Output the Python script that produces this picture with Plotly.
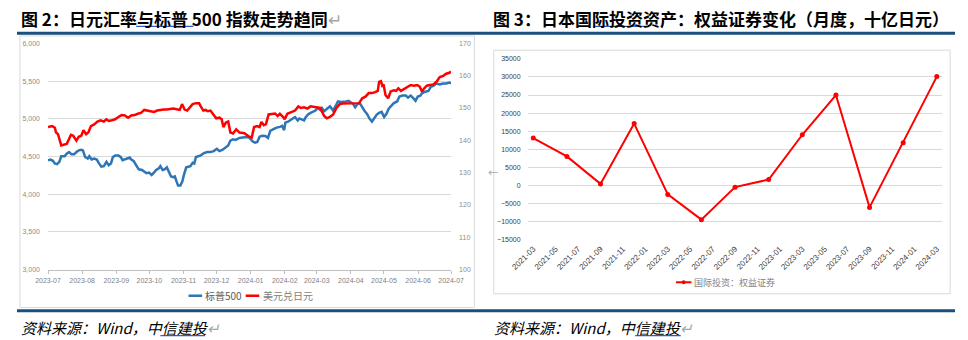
import pandas as pd
import plotly.graph_objects as go

W, H = 968, 340

# ---------------- Figure 2 data (days since 2023-07-01) ----------------
spx_days = [
    0, 2.3, 4.4, 6.2, 8.2, 10.3, 12.0, 15.0, 17.0, 19.1,
    21.4, 23.7, 25.8, 27.9, 30.2, 31.7, 33.7, 36.1, 37.5, 39.6,
    41.9, 44.3, 46.3, 48.4, 50.7, 53.1, 55.1, 57.2, 58.9, 61.0,
    63.9, 66.0, 67.7, 69.8, 71.8, 74.2, 75.6, 77.7, 80.0, 82.4,
    85.3, 87.4, 89.4, 91.8, 94.1, 96.2, 98.2, 100.6, 102.0, 104.1,
    105.8, 107.9, 109.9, 111.7, 113.7, 115.2, 116.7, 118.1, 120.2, 122.0,
    123.4, 125.5, 127.5, 129.3, 131.3, 132.8, 134.3, 136.3, 138.7, 141.6,
    144.5, 147.5, 150.4, 153.3, 155.7, 158.6, 161.5, 163.6, 165.6, 168.0,
    170.3,
    173.9, 178.3, 182.7, 185.6, 188.0, 190.0, 192.1, 194.4, 197.4, 199.7,
    201.8, 204.7, 207.6, 210.5, 212.6, 214.4, 215.5, 217.9, 220.2, 222.3,
    224.3, 226.7, 228.1, 230.2, 232.5, 234.0, 236.1, 238.4, 240.7, 242.8,
    244.8, 247.2, 248.7, 250.7, 253.1, 256.0, 258.9, 261.3, 263.3, 266.2,
    268.3, 270.6, 273.0, 275.0, 277.1, 278.9, 280.9, 283.0, 285.3, 287.6,
    289.7, 291.8, 294.1, 296.4, 298.5, 300.6, 302.9, 305.2, 307.3, 309.3,
    311.7, 314.0, 317.0, 319.0, 322.0, 324.9, 326.9, 329.3, 331.6, 333.7,
    335.7, 338.1, 339.5, 342.5, 345.4, 347.5, 349.8, 352.7, 355.7, 358.6,
    361.5, 364.5, 365.9,
]
spx_vals = [
    4450, 4459, 4442, 4407, 4398, 4429, 4502, 4502, 4537, 4558,
    4528, 4528, 4558, 4580, 4589, 4580, 4493, 4472, 4502, 4459,
    4472, 4459, 4407, 4364, 4372, 4429, 4385, 4407, 4493, 4511,
    4511, 4493, 4450, 4459, 4472, 4485, 4459, 4442, 4385, 4329,
    4320, 4299, 4277, 4286, 4255, 4286, 4320, 4342, 4372, 4320,
    4329, 4355, 4299, 4234, 4225, 4234, 4169, 4113, 4113, 4169,
    4255, 4355, 4364, 4372, 4416, 4407, 4493, 4502, 4515, 4545,
    4558, 4558, 4571, 4602, 4571, 4589, 4615, 4645, 4710, 4727,
    4719,
    4745, 4753, 4753, 4701, 4684, 4693, 4762, 4775, 4771, 4745,
    4840, 4861, 4883, 4892, 4905, 4849, 4948, 4961, 4978, 5004,
    5022, 4978, 5004, 4991, 4978, 5022, 5056, 5078, 5091, 5108,
    5143, 5117, 5143, 5100, 5130, 5165, 5108, 5165, 5229, 5221,
    5221, 5229, 5238, 5221, 5195, 5152, 5195, 5208, 5152, 5100,
    5065, 5004, 4961, 5004, 5056, 5078, 5091, 5022, 5065, 5134,
    5165, 5208, 5229, 5294, 5307, 5307, 5281, 5307, 5273, 5238,
    5294, 5307, 5338, 5359, 5368, 5424, 5437, 5467, 5455, 5467,
    5467, 5480, 5467,
]
usdjpy_days = [
    0, 3.8, 6.2, 7.3, 9.1, 10.8, 12.0, 14.1, 17.0, 19.1,
    20.8, 22.9, 25.8, 27.9, 30.2, 32.2, 34.6, 36.6, 39.0, 41.9,
    44.9, 47.8, 50.7, 53.1, 55.1, 58.0, 61.0, 63.9, 66.8, 69.8,
    72.7, 75.6, 78.6, 81.5, 84.4, 87.4, 90.3, 93.2, 96.2, 99.1,
    102.0, 105.0, 107.9, 110.8, 113.8, 116.7, 119.6, 121.7, 124.0, 126.4,
    128.4, 131.3, 134.3, 137.2, 138.7, 141.0, 143.1, 145.1, 147.5, 150.4,
    152.7, 155.7, 157.7, 159.2, 161.5, 163.6, 165.6, 168.0, 170.9,
    173.9, 178.3, 182.7, 185.0, 187.1, 190.0, 192.1, 193.8, 195.9, 197.9,
    200.3, 203.2, 206.2, 208.5, 210.5, 213.5, 214.9, 217.3, 220.2, 222.3,
    224.3, 227.3, 229.6, 232.5, 235.5, 238.4, 241.3, 244.3, 247.2, 250.7,
    253.1, 256.0, 258.9, 261.9, 264.8, 267.7, 270.6, 273.6, 276.5, 279.4,
    282.4, 285.3, 288.2, 291.2, 294.1, 297.0, 299.4, 300.6, 302.3, 303.5,
    304.7, 306.4, 308.8, 311.1, 314.0, 316.1, 318.1, 320.5, 323.4, 326.3,
    329.3, 332.2, 335.1, 337.5, 339.5, 341.6, 343.9, 346.9, 349.8, 352.7,
    355.7, 358.6, 361.5, 364.5, 365.9,
]
usdjpy_vals = [
    144.1, 144.4, 143.9, 142.4, 141.9, 139.9, 138.4, 138.6, 138.9, 140.4,
    141.7, 141.4, 139.9, 141.1, 141.4, 143.1, 141.9, 142.4, 144.4, 144.9,
    145.8, 146.2, 145.8, 146.5, 146.0, 146.2, 146.5, 147.2, 147.8, 147.7,
    147.0, 147.7, 147.8, 148.2, 148.5, 149.4, 149.2, 149.0, 148.8, 149.2,
    149.4, 149.5, 149.5, 149.7, 149.8, 149.6, 149.4, 151.2, 149.5, 149.2,
    150.0, 151.2, 151.5, 151.5, 150.5, 149.2, 149.4, 149.0, 149.2, 147.8,
    146.8, 147.0, 146.5, 144.1, 145.5, 145.8, 142.4, 142.1, 143.4,
    142.4, 142.2, 141.1, 140.9, 144.1, 144.4, 144.1, 145.7, 144.7, 145.0,
    148.0, 148.2, 148.3, 147.5, 148.2, 147.2, 146.5, 148.2, 148.7, 149.0,
    149.2, 150.5, 150.0, 150.2, 149.8, 150.5, 150.4, 150.2, 150.0, 147.5,
    146.8, 147.2, 148.0, 150.0, 151.2, 151.4, 151.4, 151.3, 151.5, 151.5,
    151.5, 153.0, 153.5, 154.6, 154.6, 154.9, 155.3, 158.1, 158.3, 156.9,
    157.3, 154.0, 153.0, 155.1, 155.5, 155.3, 156.1, 155.3, 155.9, 156.5,
    157.1, 156.9, 157.1, 156.6, 155.1, 156.1, 156.9, 157.1, 157.3, 158.1,
    159.6, 159.9, 160.6, 160.9, 161.3,
]
fig2_start = "2023-07-01"
fig2_end = "2024-07-01"

# ---------------- Figure 3 data ----------------
fig3_months = ["2021-03", "2021-06", "2021-09", "2021-12", "2022-03", "2022-06",
               "2022-09", "2022-12", "2023-03", "2023-06", "2023-09", "2023-12",
               "2024-03"]
fig3_vals = [13100, 8000, 400, 17100, -2500, -9500, -500, 1600, 14000, 25000,
             -6100, 11800, 30100]
fig3_ticklabels = ["2021-03", "2021-05", "2021-07", "2021-09", "2021-11",
                   "2022-01", "2022-03", "2022-05", "2022-07", "2022-09",
                   "2022-11", "2023-01", "2023-03", "2023-05", "2023-07",
                   "2023-09", "2023-11", "2024-01", "2024-03"]

# ---------------- helpers ----------------
def X(p):
    return p / W

def Y(p):
    return 1 - p / H

def month_index(s):
    y, m = s.split("-")
    return (int(y) - 2021) * 12 + int(m) - 3

BLUE = "#2E75B6"
RED = "#FF0000"
GRID = "#D9D9D9"
DARK = "#1B4F7E"
CJK = "Noto Sans CJK SC"
NUM = "Liberation Sans, Noto Sans CJK SC"

start = pd.Timestamp(fig2_start)
spx_dates = start + pd.to_timedelta(spx_days, unit="D")
jpy_dates = start + pd.to_timedelta(usdjpy_days, unit="D")
month_ticks = pd.date_range(fig2_start, fig2_end, freq="MS")
month_text = [d.strftime("%Y-%m") for d in month_ticks]

fig3_x = [month_index(m) for m in fig3_months]
fig3_tickpos = [month_index(m) for m in fig3_ticklabels]

fig = go.Figure()
fig.add_trace(go.Scatter(x=spx_dates, y=spx_vals, mode="lines", name="标普500",
                         line=dict(color=BLUE, width=2.5), xaxis="x", yaxis="y",
                         showlegend=False, hoverinfo="skip"))
fig.add_trace(go.Scatter(x=jpy_dates, y=usdjpy_vals, mode="lines", name="美元兑日元",
                         line=dict(color=RED, width=2.5), xaxis="x", yaxis="y2",
                         showlegend=False, hoverinfo="skip"))
fig.add_trace(go.Scatter(x=fig3_x, y=fig3_vals, mode="lines+markers",
                         name="国际投资：权益证券",
                         line=dict(color=RED, width=2),
                         marker=dict(color=RED, size=5),
                         xaxis="x3", yaxis="y3", showlegend=False, hoverinfo="skip"))

pad_l = 5
pad_r = pad_l / 3000 * 70

fig.update_layout(
    width=W, height=H,
    margin=dict(l=0, r=0, t=0, b=0),
    paper_bgcolor="white", plot_bgcolor="white",
    xaxis=dict(domain=[X(32), X(448)], anchor="y", type="date",
               range=[start, pd.Timestamp(fig2_end)],
               tickvals=month_ticks, ticktext=month_text,
               tickfont=dict(family=NUM, size=7, color="#7F7F7F"),
               ticks="outside", ticklen=3, tickcolor="#BFBFBF",
               showline=True, linecolor="#BFBFBF", linewidth=1,
               showgrid=False, zeroline=False, ticklabelstandoff=1),
    yaxis=dict(domain=[Y(271.7), Y(40.7)], anchor="x",
               range=[3000 - pad_l, 6000 + pad_l], dtick=500, tick0=3000,
               tickformat=",", gridcolor=GRID, gridwidth=1,
               tickfont=dict(family=NUM, size=7, color="#8C8C8C"),
               zeroline=False, showline=False, ticklabelstandoff=7),
    yaxis2=dict(overlaying="y", side="right", anchor="x",
                range=[100 - pad_r, 170 + pad_r], dtick=10, tick0=100,
                showgrid=False, zeroline=False, showline=False,
                tickfont=dict(family=NUM, size=7, color="#8C8C8C"),
                ticklabelstandoff=7),
    xaxis3=dict(domain=[X(527), X(955)], anchor="y3",
                range=[-0.5, 36.5], tickvals=fig3_tickpos, ticktext=fig3_ticklabels,
                tickangle=-45, tickfont=dict(family=NUM, size=8, color="#404040"),
                showgrid=False, zeroline=False, showline=False, ticks="",
                ticklabelstandoff=2),
    yaxis3=dict(domain=[Y(241), Y(56.7)], anchor="x3",
                range=[-15060, 35060], dtick=5000, tick0=-15000,
                tickformat="d",
                gridcolor=GRID, gridwidth=1, zeroline=False, showline=False,
                tickfont=dict(family=NUM, size=7, color="#404040"),
                ticklabelstandoff=6),
)

shapes = []
def hline(x0, x1, y, color, width):
    shapes.append(dict(type="line", xref="paper", yref="paper",
                       x0=X(x0), x1=X(x1), y0=Y(y), y1=Y(y),
                       line=dict(color=color, width=width)))

def box(x0, y0, x1, y1, color):
    shapes.append(dict(type="rect", xref="paper", yref="paper",
                       x0=X(x0), x1=X(x1), y0=Y(y1), y1=Y(y0),
                       line=dict(color=color, width=1), layer="below"))

# separators
hline(0, 968, 30.7, DARK, 3)
hline(0, 968, 313.3, DARK, 3)
# chart borders
box(3, 33.5, 472, 310, GRID)
box(492, 48, 963, 296, GRID)
# spell-check style underlines
UL = "#2F5BD0"
hline(123, 182, 23.8, UL, 1.2)
hline(595, 649, 23.8, UL, 1.2)
hline(148, 194, 338.6, UL, 1.2)
hline(638, 685, 338.6, UL, 1.2)
# legend samples
hline(177, 191, 298, BLUE, 2.5)
hline(236, 250, 298, RED, 2.5)
hline(680, 696, 284.3, RED, 2)
shapes.append(dict(type="circle", xref="paper", yref="paper",
                   x0=X(686), x1=X(690), y0=Y(286.3), y1=Y(282.3),
                   fillcolor=RED, line=dict(color=RED, width=0)))
fig.update_layout(shapes=shapes)

ann = []
def text(x, y, s, size, color="black", anchor="left", family=CJK, style="normal"):
    ann.append(dict(xref="paper", yref="paper", x=X(x), y=Y(y), text=s,
                    showarrow=False, xanchor=anchor, yanchor="middle",
                    font=dict(family=family, size=size, color=color, style=style)))

RET = "<span style='color:#A6A6A6'>↵</span>"
text(2, 15.5, "<b>图 2：日元汇率与标普 500 指数走势趋同</b>" + RET, 17)
text(489, 15.5, "<b>图 3：日本国际投资资产：权益证券变化（月度，十亿日元）</b>", 17)
text(2, 330.5, "资料来源：Wind，中信建投" + RET, 15, style="italic")
text(490, 330.5, "资料来源：Wind，中信建投" + RET, 15, style="italic")
text(192, 298, "标普500", 10, color="#595959")
text(252, 298, "美元兑日元", 10, color="#7F7F7F")
text(697, 284.3, "国际投资：权益证券", 9, color="#7F7F7F")
text(484, 173, "←", 10, color="#A6A6A6")
fig.update_layout(annotations=ann)

fig.write_html("out.html", post_script="document.body.style.margin='0';")
